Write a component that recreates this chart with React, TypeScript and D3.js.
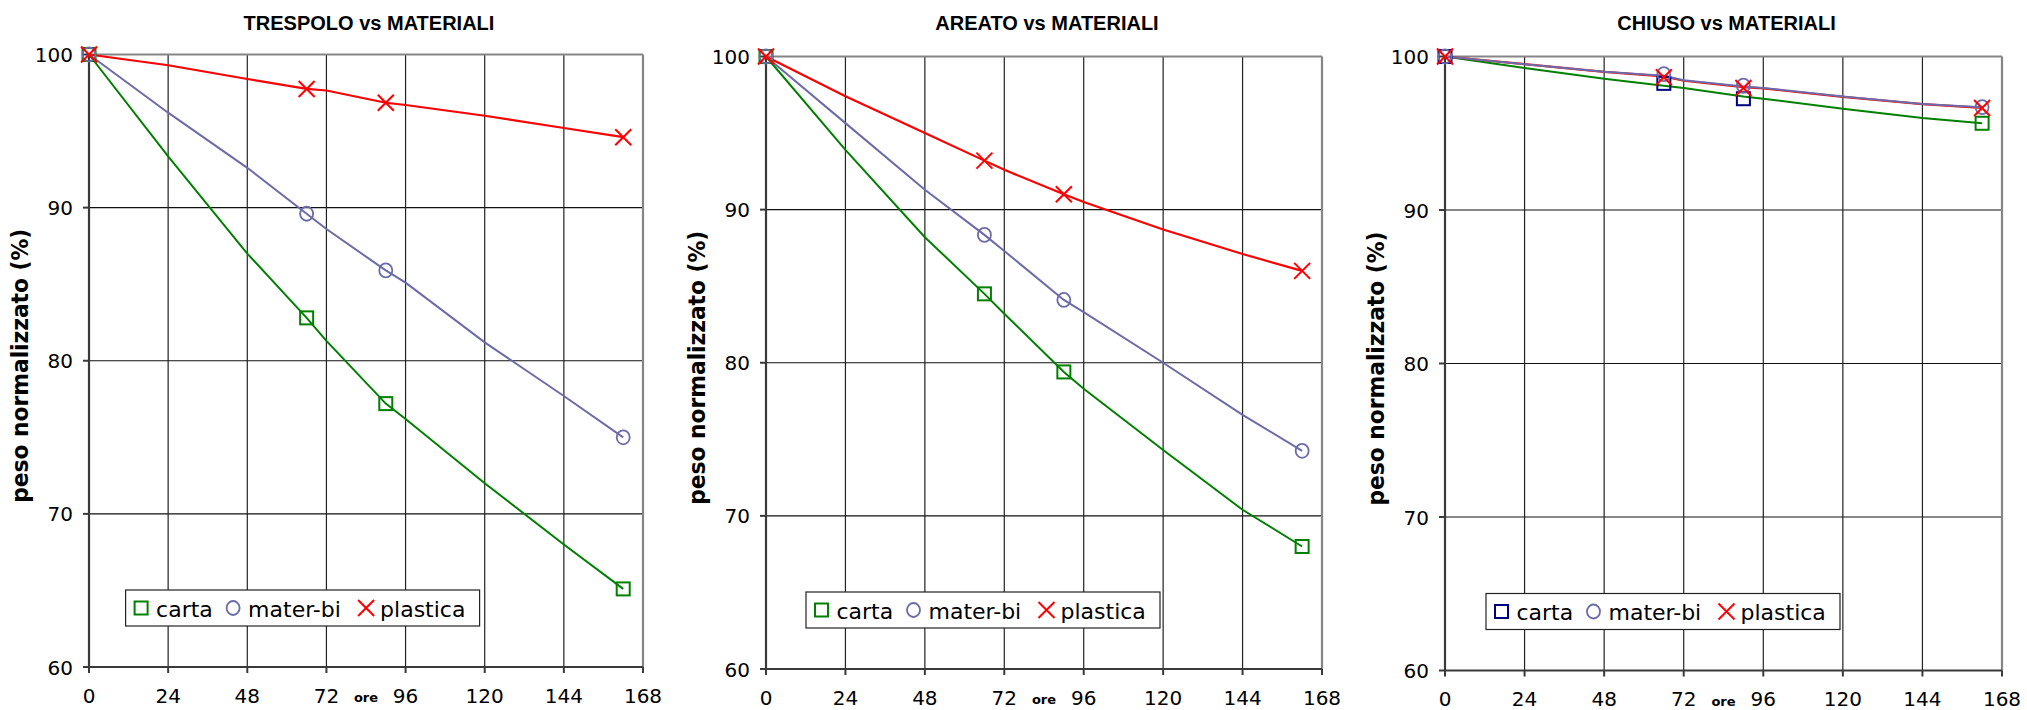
import React from "react";
import * as d3 from "d3";

// ---- data ----
const HOURS = [0, 24, 48, 66, 72, 90, 96, 120, 144, 162];
const MARKER_HOURS = [0, 66, 90, 162];
const X_TICKS = [0, 24, 48, 72, 96, 120, 144, 168];
const Y_TICKS = [60, 70, 80, 90, 100];
const SERIES_NAMES = ["carta", "mater-bi", "plastica"];
const TITLES = ["TRESPOLO vs MATERIALI", "AREATO vs MATERIALI", "CHIUSO vs MATERIALI"];

// TRESPOLO
const trespoloCarta = [100, 93.35, 87.0, 82.8, 81.3, 77.2, 76.2, 72.0, 68.0, 65.1];
const trespoloMaterBi = [100, 96.2, 92.6, 89.6, 88.6, 85.9, 85.1, 81.2, 77.7, 75.0];
const trespoloPlastica = [100, 99.3, 98.4, 97.75, 97.65, 96.85, 96.7, 96.0, 95.2, 94.6];
const trespoloCartaMk = [100, 82.8, 77.2, 65.1];
const trespoloMaterBiMk = [100, 89.6, 85.9, 75.0];
const trespoloPlasticaMk = [100, 97.75, 96.85, 94.6];

// AREATO
const areatoCarta = [100, 93.9, 88.2, 84.5, 83.2, 79.4, 78.3, 74.3, 70.4, 68.0];
const areatoMaterBi = [100, 95.65, 91.3, 88.35, 87.3, 84.1, 83.3, 80.0, 76.6, 74.25];
const areatoPlastica = [100, 97.4, 95.0, 93.2, 92.6, 91.0, 90.5, 88.7, 87.1, 86.0];
const areatoCartaMk = [100, 84.5, 79.4, 68.0];
const areatoMaterBiMk = [100, 88.35, 84.1, 74.25];
const areatoPlasticaMk = [100, 93.2, 91.0, 86.0];

// CHIUSO
const chiusoCarta = [100, 99.25, 98.55, 98.1, 97.95, 97.4, 97.25, 96.6, 96.0, 95.65];
const chiusoMaterBi = [100, 99.5, 99.0, 98.75, 98.45, 98.05, 97.95, 97.4, 96.9, 96.7];
const chiusoPlastica = [100, 99.5, 99.0, 98.7, 98.42, 98.0, 97.92, 97.37, 96.9, 96.65];
const chiusoCartaMk = [100, 98.25, 97.25, 95.65];
const chiusoMaterBiMk = [100, 98.85, 98.1, 96.7];
const chiusoPlasticaMk = [100, 98.65, 97.95, 96.65];

const GREEN = "#008000";
const NAVY = "#000080";
const SLATE = "#6B6BAA";
const RED = "#FF0000";

type PanelProps = {
  title: string;
  left: number;
  right: number;
  top: number;
  bottom: number;
  legendDx: number;
  lines: number[][];
  markers: number[][];
  cartaMarkerColors: string[];
  legendCartaColor: string;
};

const Square = ({ x, y, c }: { x: number; y: number; c: string }) => (
  <rect x={x - 6.5} y={y - 6.5} width={13} height={13} fill="none" stroke={c} strokeWidth={2} />
);
const Circle = ({ x, y, c }: { x: number; y: number; c: string }) => (
  <ellipse cx={x} cy={y} rx={6.5} ry={7} fill="none" stroke={c} strokeWidth={1.8} />
);
const Cross = ({ x, y, c }: { x: number; y: number; c: string }) => (
  <g stroke={c} strokeWidth={2}>
    <line x1={x - 8} y1={y - 8} x2={x + 8} y2={y + 8} />
    <line x1={x - 8} y1={y + 8} x2={x + 8} y2={y - 8} />
  </g>
);

function Panel(p: PanelProps) {
  const x = d3.scaleLinear().domain([0, 168]).range([p.left, p.right]);
  const y = d3.scaleLinear().domain([60, 100]).range([p.bottom, p.top]);
  const line = d3
    .line<number>()
    .x((_, i) => x(HOURS[i]))
    .y((v) => y(v));
  const colors = [GREEN, SLATE, RED];
  const drawOrder = [0, 2, 1];
  const cx = (p.left + p.right) / 2;
  const cy = (p.top + p.bottom) / 2 + 5;
  const lgX = p.left + p.legendDx;
  const lgY = p.bottom - 77;
  const font = "'DejaVu Sans', Verdana, sans-serif";
  return (
    <g>
      <text x={cx + 3} y={29.5} textAnchor="middle" fontFamily="'Liberation Sans', Arial, sans-serif" fontWeight="bold" fontSize={20} fill="#000">
        {p.title}
      </text>
      {/* grid */}
      {Y_TICKS.slice(1, -1).map((t) => (
        <line key={"h" + t} x1={p.left} x2={p.right} y1={y(t)} y2={y(t)} stroke="#111" strokeWidth={1.2} />
      ))}
      {X_TICKS.slice(1, -1).map((t) => (
        <line key={"v" + t} x1={x(t)} x2={x(t)} y1={p.top} y2={p.bottom} stroke="#222" strokeWidth={1.2} />
      ))}
      {/* frame */}
      <line x1={p.left} x2={p.right} y1={p.top} y2={p.top} stroke="#858585" strokeWidth={2.2} />
      <line x1={p.right} x2={p.right} y1={p.top} y2={p.bottom} stroke="#858585" strokeWidth={2.2} />
      <line x1={p.left} x2={p.right} y1={p.bottom} y2={p.bottom} stroke="#3a3a3a" strokeWidth={2.2} />
      <line x1={p.left} x2={p.left} y1={p.top} y2={p.bottom} stroke="#3a3a3a" strokeWidth={2.2} />
      {/* ticks */}
      {Y_TICKS.map((t) => (
        <g key={"yt" + t}>
          <line x1={p.left - 6} x2={p.left} y1={y(t)} y2={y(t)} stroke="#3a3a3a" strokeWidth={2} />
          <text x={p.left - 16} y={y(t) + 7.5} textAnchor="end" fontFamily={font} fontSize={20} fill="#000">
            {t}
          </text>
        </g>
      ))}
      {X_TICKS.map((t) => (
        <g key={"xt" + t}>
          <line x1={x(t)} x2={x(t)} y1={p.bottom} y2={p.bottom + 6} stroke="#3a3a3a" strokeWidth={2} />
          <text x={x(t)} y={p.bottom + 35.5} textAnchor="middle" fontFamily={font} fontSize={20} fill="#000">
            {t}
          </text>
        </g>
      ))}
      <text x={cx} y={p.bottom + 35} textAnchor="middle" fontFamily={font} fontWeight="bold" fontSize={13} fill="#000">
        ore
      </text>
      <text
        transform={`translate(${p.left - 61},${cy}) rotate(-90)`}
        textAnchor="middle"
        fontFamily={font}
        fontWeight="bold"
        fontSize={23.5}
        textLength={274}
        lengthAdjust="spacingAndGlyphs"
        fill="#000"
      >
        peso normalizzato (%)
      </text>
      {/* lines */}
      {drawOrder.map((i) => (
        <path key={"l" + i} d={line(p.lines[i]) || ""} fill="none" stroke={colors[i]} strokeWidth={i === 2 ? 2.2 : 2} />
      ))}
      {/* markers */}
      {p.markers[0].map((v, i) => (
        <Square key={"ms" + i} x={x(MARKER_HOURS[i])} y={y(v)} c={p.cartaMarkerColors[i]} />
      ))}
      {p.markers[1].map((v, i) => (
        <Circle key={"mc" + i} x={x(MARKER_HOURS[i])} y={y(v)} c={SLATE} />
      ))}
      {p.markers[2].map((v, i) => (
        <Cross key={"mx" + i} x={x(MARKER_HOURS[i])} y={y(v)} c={RED} />
      ))}
      {/* legend */}
      <rect x={lgX} y={lgY} width={354} height={36} fill="#fff" stroke="#222" strokeWidth={1.2} />
      <Square x={lgX + 15.5} y={lgY + 18} c={p.legendCartaColor} />
      <text x={lgX + 30.5} y={lgY + 26.5} fontFamily={font} fontSize={22} fill="#000">
        {SERIES_NAMES[0]}
      </text>
      <Circle x={lgX + 107.5} y={lgY + 18} c={SLATE} />
      <text x={lgX + 122.5} y={lgY + 26.5} fontFamily={font} fontSize={22} fill="#000">
        {SERIES_NAMES[1]}
      </text>
      <Cross x={lgX + 240.5} y={lgY + 18} c={RED} />
      <text x={lgX + 254.5} y={lgY + 26.5} fontFamily={font} fontSize={22} fill="#000">
        {SERIES_NAMES[2]}
      </text>
    </g>
  );
}

export default function App() {
  return (
    <svg
      width={2027}
      height={710}
      style={{ position: "absolute", left: 0, top: 0, display: "block", background: "#fff" }}
    >
      <rect x={0} y={0} width={2027} height={710} fill="#fff" />
      <Panel
        title={TITLES[0]}
        left={89}
        right={643}
        top={54.5}
        bottom={667}
        legendDx={36.6}
        lines={[trespoloCarta, trespoloMaterBi, trespoloPlastica]}
        markers={[trespoloCartaMk, trespoloMaterBiMk, trespoloPlasticaMk]}
        cartaMarkerColors={[GREEN, GREEN, GREEN, GREEN]}
        legendCartaColor={GREEN}
      />
      <Panel
        title={TITLES[1]}
        left={766}
        right={1322}
        top={56.5}
        bottom={669}
        legendDx={40}
        lines={[areatoCarta, areatoMaterBi, areatoPlastica]}
        markers={[areatoCartaMk, areatoMaterBiMk, areatoPlasticaMk]}
        cartaMarkerColors={[GREEN, GREEN, GREEN, GREEN]}
        legendCartaColor={GREEN}
      />
      <Panel
        title={TITLES[2]}
        left={1445}
        right={2002}
        top={56.5}
        bottom={670.5}
        legendDx={41}
        lines={[chiusoCarta, chiusoMaterBi, chiusoPlastica]}
        markers={[chiusoCartaMk, chiusoMaterBiMk, chiusoPlasticaMk]}
        cartaMarkerColors={[NAVY, NAVY, NAVY, GREEN]}
        legendCartaColor={NAVY}
      />
    </svg>
  );
}
